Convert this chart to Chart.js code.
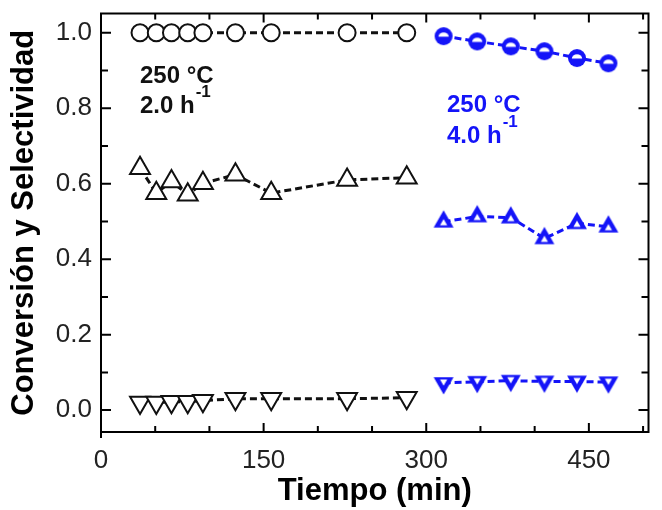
<!DOCTYPE html>
<html>
<head>
<meta charset="utf-8">
<script src="https://cdn.jsdelivr.net/npm/chart.js@4/dist/chart.umd.min.js"></script>
<style>
  html, body { margin: 0; padding: 0; background: #fff; }
  #wrap { width: 662px; height: 510px; }
</style>
</head>
<body>
<div id="wrap"><canvas id="grafico" width="662" height="510"></canvas></div>
<script>
// Datos
const tiempo1 = [36, 51, 65, 80, 94, 124, 157, 227, 282];
const conversion1 = [1.0, 1.0, 1.0, 1.0, 1.0, 1.0, 1.0, 1.0, 1.0];
const selectA1 = [0.641, 0.575, 0.606, 0.571, 0.601, 0.624, 0.575, 0.610, 0.616];
const selectB1 = [0.02, 0.02, 0.022, 0.022, 0.025, 0.03, 0.03, 0.03, 0.033];

const tiempo2 = [316, 347, 378, 409, 439, 468];
const conversion2 = [0.991, 0.977, 0.964, 0.951, 0.933, 0.919];
const selectA2 = [0.499, 0.513, 0.510, 0.455, 0.495, 0.486];
const selectB2 = [0.072, 0.075, 0.078, 0.076, 0.076, 0.074];

const xTicks = [0, 150, 300, 450];
const xMinorTicks = [50, 100, 200, 250, 350, 400, 500];
const yTicks = [0.0, 0.2, 0.4, 0.6, 0.8, 1.0];
const yMinorTicks = [0.1, 0.3, 0.5, 0.7, 0.9];

const AZUL = '#1414f8';
const NEGRO = '#000';

const pares = (xs, ys) => xs.map((x, i) => ({ x: x, y: ys[i] }));

// marcadores azules (semi-rellenos)
function circuloAzul() {
  const c = document.createElement('canvas');
  c.width = 22; c.height = 22;
  const g = c.getContext('2d');
  g.fillStyle = AZUL;
  g.beginPath(); g.arc(11, 11, 9, 0, Math.PI * 2); g.fill();
  g.fillStyle = '#fff';
  g.beginPath(); g.ellipse(11, 11.5, 5.2, 4.3, 0, Math.PI, Math.PI * 2); g.closePath(); g.fill();
  return c;
}

function trianguloAzul(abajo) {
  const r = 11.5, s = 30;
  const c = document.createElement('canvas');
  c.width = s; c.height = s;
  const g = c.getContext('2d');
  g.translate(s / 2, s / 2);
  if (abajo) g.rotate(Math.PI);
  const tri = (k) => {
    g.beginPath();
    g.moveTo(0, -r * k);
    g.lineTo(r * k * Math.sin(Math.PI / 3), r * k / 2);
    g.lineTo(-r * k * Math.sin(Math.PI / 3), r * k / 2);
    g.closePath();
  };
  g.fillStyle = AZUL; tri(1); g.fill();
  g.fillStyle = '#fff'; g.save(); g.translate(0, 1.5); tri(0.36); g.fill(); g.restore();
  return c;
}

// marco con marcas hacia dentro y textos de condiciones
const marco = {
  id: 'marco',
  afterDraw(chart) {
    const { ctx, chartArea: a, scales: { x, y } } = chart;
    ctx.save();
    ctx.strokeStyle = NEGRO;
    ctx.lineWidth = 2;
    ctx.strokeRect(a.left, a.top, a.right - a.left, a.bottom - a.top);
    ctx.beginPath();
    ctx.moveTo(a.left, a.bottom); ctx.lineTo(a.left, a.bottom + 6);
    const linea = (x1, y1, x2, y2) => { ctx.moveTo(x1, y1); ctx.lineTo(x2, y2); };
    xTicks.concat(xMinorTicks).forEach(v => {
      const px = x.getPixelForValue(v);
      const l = xTicks.includes(v) ? 9 : 6;
      linea(px, a.bottom, px, a.bottom - l);
      linea(px, a.top, px, a.top + l);
    });
    yTicks.concat(yMinorTicks).forEach(v => {
      const py = y.getPixelForValue(v);
      const l = yTicks.includes(v) ? 10 : 7;
      linea(a.left, py, a.left + l, py);
      linea(a.right, py, a.right - l, py);
    });
    ctx.stroke();

    const texto = (t, px, py, tam, color) => {
      ctx.font = 'bold ' + tam + 'px "Liberation Sans", Arial, sans-serif';
      ctx.fillStyle = color;
      ctx.fillText(t, px, py);
      return ctx.measureText(t).width;
    };
    ctx.textBaseline = 'alphabetic';
    let w;
    texto('250 °C', 140, 83, 24, '#111');
    w = texto('2.0 h', 140, 113, 24, '#111');
    texto('-1', 140 + w + 1, 97, 17, '#111');
    texto('250 °C', 447, 112, 24, AZUL);
    w = texto('4.0 h', 447, 143, 24, AZUL);
    texto('-1', 447 + w + 1, 127, 17, AZUL);
    ctx.restore();
  }
};

const lineaNegra = { borderColor: '#111', borderWidth: 3, borderDash: [7, 4], showLine: true };
const lineaAzul = { borderColor: AZUL, borderWidth: 3, borderDash: [7, 4], showLine: true };

new Chart(document.getElementById('grafico'), {
  type: 'scatter',
  data: {
    datasets: [
      Object.assign({ label: 'Conversión 2.0', data: pares(tiempo1, conversion1),
        pointStyle: 'circle', pointRadius: 8.5, pointBackgroundColor: '#fff',
        pointBorderColor: '#111', pointBorderWidth: 2 }, lineaNegra),
      Object.assign({ label: 'Selectividad A 2.0', data: pares(tiempo1, selectA1),
        pointStyle: 'triangle', pointRadius: 11.5, pointBackgroundColor: '#fff',
        pointBorderColor: '#111', pointBorderWidth: 2 }, lineaNegra),
      Object.assign({ label: 'Selectividad B 2.0', data: pares(tiempo1, selectB1),
        pointStyle: 'triangle', pointRotation: 180, pointRadius: 11.5, pointBackgroundColor: '#fff',
        pointBorderColor: '#111', pointBorderWidth: 2 }, lineaNegra),
      Object.assign({ label: 'Conversión 4.0', data: pares(tiempo2, conversion2),
        pointStyle: circuloAzul() }, lineaAzul),
      Object.assign({ label: 'Selectividad A 4.0', data: pares(tiempo2, selectA2),
        pointStyle: trianguloAzul(false) }, lineaAzul),
      Object.assign({ label: 'Selectividad B 4.0', data: pares(tiempo2, selectB2),
        pointStyle: trianguloAzul(true) }, lineaAzul)
    ]
  },
  options: {
    responsive: false,
    animation: false,
    layout: { padding: { left: 0, right: 3, top: 13, bottom: 0 } },
    plugins: { legend: { display: false }, tooltip: { enabled: false } },
    scales: {
      x: {
        type: 'linear', min: 0, max: 505,
        afterBuildTicks: s => { s.ticks = xTicks.map(v => ({ value: v })); },
        afterFit: s => { s.height = 78; s.paddingLeft = 0; s.paddingRight = 0; },
        grid: { display: false, drawTicks: false },
        border: { display: false },
        ticks: { padding: 13, color: '#222', font: { family: '"Liberation Sans", Arial, sans-serif', size: 26 } },
        title: { display: true, text: 'Tiempo (min)', color: '#000', padding: { top: 0, bottom: 0 },
          font: { family: '"Liberation Sans", Arial, sans-serif', size: 31, weight: 'bold' } }
      },
      y: {
        type: 'linear', min: -0.058, max: 1.051,
        afterBuildTicks: s => { s.ticks = yTicks.map(v => ({ value: v })); },
        afterFit: s => { s.width = 101; s.paddingTop = 0; s.paddingBottom = 0; },
        grid: { display: false, drawTicks: false },
        border: { display: false },
        ticks: { padding: 9, color: '#222', callback: v => v.toFixed(1),
          font: { family: '"Liberation Sans", Arial, sans-serif', size: 26 } },
        title: { display: true, text: 'Conversión y Selectividad', color: '#000', padding: { top: 6, bottom: 0 },
          font: { family: '"Liberation Sans", Arial, sans-serif', size: 31, weight: 'bold' } }
      }
    }
  },
  plugins: [marco]
});
</script>
</body>
</html>
